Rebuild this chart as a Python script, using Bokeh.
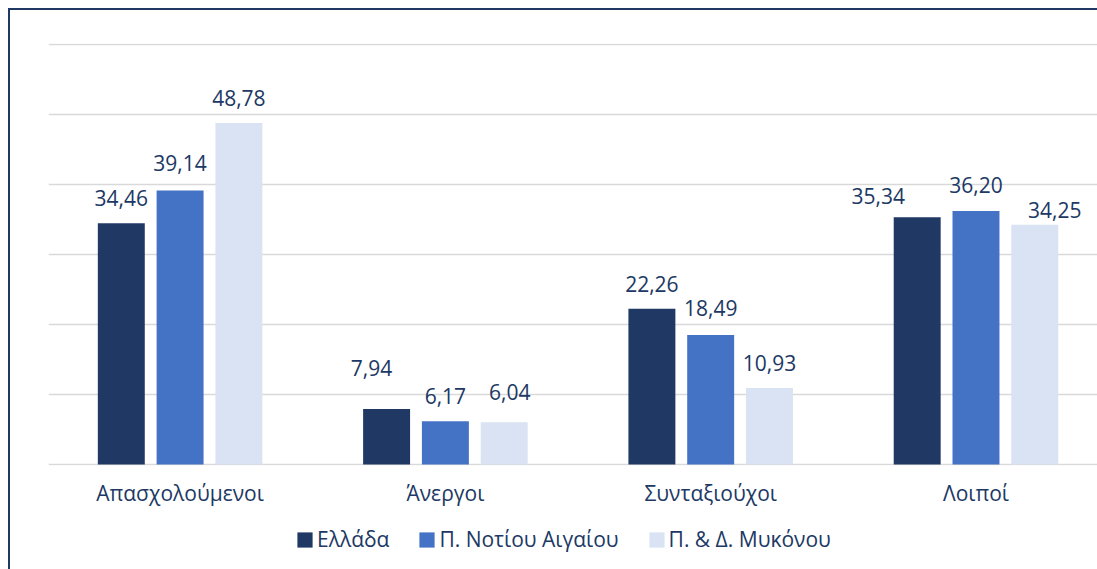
from bokeh.plotting import figure
from bokeh.models import (Range1d, FixedTicker, Legend, LegendItem, ColumnDataSource, LabelSet)
from bokeh.layouts import column
from bokeh.transform import dodge
from bokeh.core.properties import value
from bokeh.embed import file_html
from bokeh.resources import INLINE

categories = ["Απασχολούμενοι", "Άνεργοι", "Συνταξιούχοι", "Λοιποί"]
series_names = ["Ελλάδα", "Π. Νοτίου Αιγαίου", "Π. & Δ. Μυκόνου"]
ellada = [34.46, 7.94, 22.26, 35.34]
notiou_aigaiou = [39.14, 6.17, 18.49, 36.20]
mykonou = [48.78, 6.04, 10.93, 34.25]
y_ticks = [0, 10, 20, 30, 40, 50, 60]

# styling (label offsets in screen pixels, as manually placed in the original)
colors = ["#203864", "#4472C4", "#DAE3F3"]
label_dx = [[0, -15, 0, -39], [0, 0, 0, 0], [0, 5.5, 0, 20]]
label_dy = [[17.7, 32.7, 17, 12.7], [19.3, 17.7, 18.6, 18.3], [16.7, 21.7, 16.7, 7]]
offsets = [-0.2216, 0.0, 0.2216]
bar_w = 0.177
TEXT = "#203864"
FONT = "Open Sans"
BORDER = "#1F3864"

W = 1087
H_MAIN, H_LEG = 506, 53

p = figure(width=W, height=H_MAIN, output_backend="svg", toolbar_location=None,
           x_range=Range1d(0.004, 0.004 + 1049 / 265.3), y_range=Range1d(-0.15, 60.15))
p.min_border_left = 38
p.min_border_right = 0
p.min_border_top = 33
p.min_border_bottom = 51
p.outline_line_color = None
p.background_fill_color = "white"
p.border_fill_color = "white"

xs = [i + 0.5 for i in range(len(categories))]
for k, vals in enumerate([ellada, notiou_aigaiou, mykonou]):
    src = ColumnDataSource(dict(
        x=xs, top=vals,
        text=[f"{v:.2f}".replace(".", ",") for v in vals],
        dx=label_dx[k], dy=label_dy[k]))
    p.vbar(x=dodge("x", offsets[k]), top="top", bottom=0, width=bar_w, source=src,
           fill_color=colors[k], line_color=None)
    lbl = LabelSet(x=dodge("x", offsets[k]), y="top", text="text", source=src,
                   x_offset="dx", y_offset="dy", text_align="center",
                   text_baseline="alphabetic", text_font=value(FONT),
                   text_font_size="21px", text_color=TEXT)
    p.add_layout(lbl)

p.yaxis.visible = False
p.xgrid.visible = False
p.ygrid.ticker = FixedTicker(ticks=y_ticks)
p.ygrid.grid_line_color = "#D9D9D9"
p.ygrid.grid_line_width = 1.7

ax = p.xaxis[0]
ax.ticker = FixedTicker(ticks=xs)
ax.major_label_overrides = {x: c for x, c in zip(xs, categories)}
ax.axis_line_color = None
ax.major_tick_line_color = None
ax.minor_tick_line_color = None
ax.major_tick_out = 0
ax.major_label_standoff = 13
ax.major_label_text_font = FONT
ax.major_label_text_font_size = "21px"
ax.major_label_text_color = TEXT

# legend strip below the chart
pl = figure(width=W, height=H_LEG, output_backend="svg", toolbar_location=None,
            x_range=Range1d(0, 1), y_range=Range1d(0, 1))
pl.min_border_left = 0
pl.min_border_right = 0
pl.min_border_top = 0
pl.min_border_bottom = 0
pl.axis.visible = False
pl.grid.visible = False
pl.outline_line_color = None
pl.background_fill_color = "white"
pl.border_fill_color = "white"
# zero-height proxy glyphs, only used to draw the legend swatches
leg_renderers = [pl.vbar(x=[0.5], top=[0], bottom=[0], width=0.01, fill_color=c, line_color=None)
                 for c in colors]
legend = Legend(items=[LegendItem(label=n, renderers=[r]) for n, r in zip(series_names, leg_renderers)],
                orientation="horizontal", location=(247, 16),
                glyph_width=19, glyph_height=19, label_standoff=3, spacing=28,
                label_text_font=FONT, label_text_font_size="21px", label_text_color=TEXT,
                border_line_color=None, background_fill_alpha=0, padding=0, margin=0)
pl.add_layout(legend)

layout = column(p, pl, spacing=0)
layout.styles = {"margin-left": "8px", "margin-top": "8px",
                 "border-top": f"2px solid {BORDER}", "border-left": f"2px solid {BORDER}"}

open("out.html", "w").write(file_html(layout, INLINE))
